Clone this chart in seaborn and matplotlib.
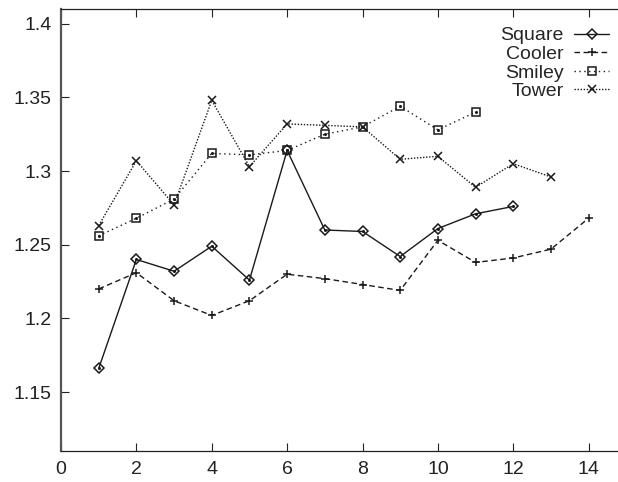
import numpy as np
import pandas as pd
import matplotlib
matplotlib.use('Agg')
import matplotlib.pyplot as plt
import seaborn as sns
from matplotlib.ticker import StrMethodFormatter

# 数据
square_x = list(range(1, 13))
square_y = [1.166, 1.240, 1.232, 1.249, 1.226, 1.314, 1.260, 1.259, 1.242, 1.261, 1.271, 1.276]

cooler_x = list(range(1, 15))
cooler_y = [1.220, 1.231, 1.212, 1.202, 1.212, 1.230, 1.227, 1.223, 1.219, 1.253, 1.238, 1.241, 1.247, 1.268]

smiley_x = list(range(1, 12))
smiley_y = [1.256, 1.268, 1.281, 1.312, 1.311, 1.314, 1.325, 1.330, 1.344, 1.328, 1.340]

tower_x = list(range(1, 14))
tower_y = [1.263, 1.307, 1.277, 1.348, 1.303, 1.332, 1.331, 1.330, 1.308, 1.310, 1.289, 1.305, 1.296]

x_ticks = list(range(0, 15, 2))
y_ticks = [1.15, 1.2, 1.25, 1.3, 1.35, 1.4]

sns.set_style("ticks")
plt.rcParams['font.family'] = ['Liberation Sans', 'DejaVu Sans']
plt.rcParams['font.size'] = 14

fig = plt.figure(figsize=(6.18, 4.82), dpi=100)
# 坐标轴右侧超出图片边界（原图被裁切）
ax = fig.add_axes([61 / 618, 31 / 482, 603 / 618, 442 / 482])

ink = '#1a1a1a'
series = [
    ('Square', square_x, square_y, 'D', '-', 4.8),
    ('Cooler', cooler_x, cooler_y, '+', (0, (4, 2.5)), 6),
    ('Smiley', smiley_x, smiley_y, 's', (0, (1, 2.5)), 5.5),
    ('Tower', tower_x, tower_y, 'x', (0, (1, 1.2)), 5.5),
]
for name, xs, ys, mk, ls, ms in series:
    sns.lineplot(x=xs, y=ys, ax=ax, color=ink, marker=mk, linestyle=ls,
                 linewidth=1.0, markersize=ms, markerfacecolor='none',
                 markeredgecolor=ink, markeredgewidth=1.1, label=name)

# 方框与菱形中间的小点
for xs, ys in [(square_x, square_y), (smiley_x, smiley_y)]:
    ax.plot(xs, ys, linestyle='none', marker='o', markersize=1.2, color=ink)

ax.set_xlim(0, 16)
ax.set_ylim(1.11, 1.41)
ax.set_xticks(x_ticks)
ax.set_yticks(y_ticks)
ax.yaxis.set_major_formatter(StrMethodFormatter('{x:g}'))
ax.tick_params(direction='in', length=6, width=0.8, top=True, right=True,
               labelsize=14, pad=7, colors='#222222')
for sp in ax.spines.values():
    sp.set_linewidth(0.9)
    sp.set_color('#222222')
ax.spines['left'].set_color('#555555')
ax.spines['left'].set_linewidth(1.6)

# markerfirst=False 时图例文字自动右对齐
leg = ax.legend(loc='upper right', bbox_to_anchor=(556 / 603, 1.0 - 10 / 442),
                frameon=False, markerfirst=False, handlelength=1.8,
                handletextpad=0.55, labelspacing=0.05, fontsize=14, borderaxespad=0)

fig.savefig('out.png', dpi=100)
